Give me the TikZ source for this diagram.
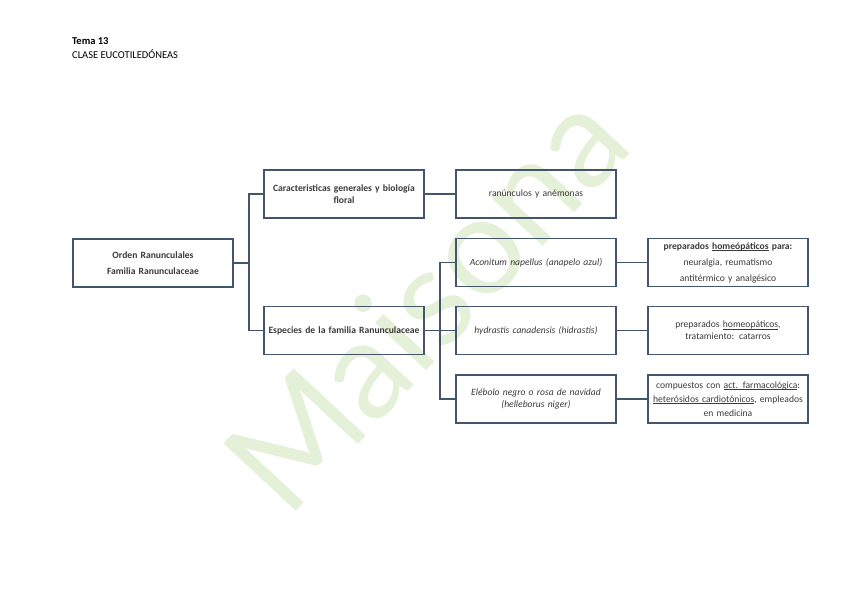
\documentclass[tikz,border=0pt]{standalone}
\usepackage{fontspec}
\setmainfont{Carlito}
\newfontfamily\wmfont{Lato}
\usetikzlibrary{positioning}
\definecolor{linec}{HTML}{44546A}
\definecolor{txtc}{HTML}{3A3A3A}
\definecolor{wmgreen}{RGB}{228,241,216}
\newcommand\myul[1]{\leavevmode\hbox{\setbox0=\hbox{#1}\rlap{\rule[-1.6pt]{\wd0}{0.5pt}}\box0}}
\tikzset{
  box/.style={draw=linec, line width=1.3pt, minimum width=160pt, minimum height=48pt,
    align=center, text width=156pt, font=\fontsize{9.6}{12}\selectfont, text=txtc, inner sep=1pt,
    execute at begin node={\hyphenpenalty=10000\exhyphenpenalty=10000}},
  conn/.style={draw=linec, line width=1.3pt},
}
\begin{document}
\begin{tikzpicture}[x=1pt,y=-1pt]
\useasboundingbox (0,0) rectangle (848,599);
% watermark
\node[rotate=47, text=wmgreen, font=\wmfont\fontsize{138}{138}\selectfont, anchor=center] (wm) at (425,300) {Maisona};
% titles
\node[anchor=north west, inner sep=0pt, font=\fontsize{10.5}{12}\selectfont\bfseries, text=black] (t1) at (72,37) {Tema 13};
\node[anchor=north west, inner sep=0pt, font=\fontsize{10.5}{12}\selectfont, text=black] (t2) at (72,50) {CLASE EUCOTILEDÓNEAS};
% column 1
\node[box, font=\fontsize{9.6}{16}\selectfont\bfseries] (orden) at (153,263) {Orden Ranunculales\\Familia Ranunculaceae};
% column 2
\node[box, font=\fontsize{9.6}{12}\selectfont\bfseries] (car) at (344,194) {Caracteristicas generales y biología\\floral};
\node[box, font=\fontsize{9.6}{12}\selectfont\bfseries] (esp) at (344,330.5) {Especies de la familia Ranunculaceae};
% column 3
\node[box] (ran) at (536,194) {ranúnculos y anémonas};
\node[box, font=\fontsize{9.6}{12}\selectfont\itshape] (aco) at (536,262.5) {Aconitum napellus (anapelo azul)};
\node[box, font=\fontsize{9.6}{12}\selectfont\itshape] (hyd) at (536,330.5) {hydrastis canadensis (hidrastis)};
\node[box, font=\fontsize{9.6}{12}\selectfont\itshape] (ele) at (536,399) {Elébolo negro o rosa de navidad\\(helleborus niger)};
% column 4
\node[box, font=\fontsize{9.6}{16}\selectfont] (p1) at (728,262.5) {\textbf{preparados \myul{homeópáticos} para:}\\neuralgia, reumatismo\\antitérmico y analgésico};
\node[box, font=\fontsize{9.6}{12}\selectfont] (p2) at (728,330.5) {preparados \myul{homeopáticos},\\tratamiento: catarros};
\node[box, font=\fontsize{9.6}{14}\selectfont] (p3) at (728,399) {compuestos con \myul{act. farmacológica}:\\\myul{heterósidos cardiotónicos}, empleados\\en medicina};
% connectors
\coordinate (j1) at (249,263);
\coordinate (j2) at (440,330.5);
\draw[conn] (orden.east) -- (j1);
\draw[conn] (j1) |- (car.west);
\draw[conn] (j1) |- (esp.west);
\draw[conn] (esp.east) -- (j2);
\draw[conn] (j2) |- (aco.west);
\draw[conn] (j2) -- (hyd.west);
\draw[conn] (j2) |- (ele.west);
\draw[conn] (car.east) -- (ran.west);
\draw[conn] (aco.east) -- (p1.west);
\draw[conn] (hyd.east) -- (p2.west);
\draw[conn] (ele.east) -- (p3.west);
\end{tikzpicture}
\end{document}
